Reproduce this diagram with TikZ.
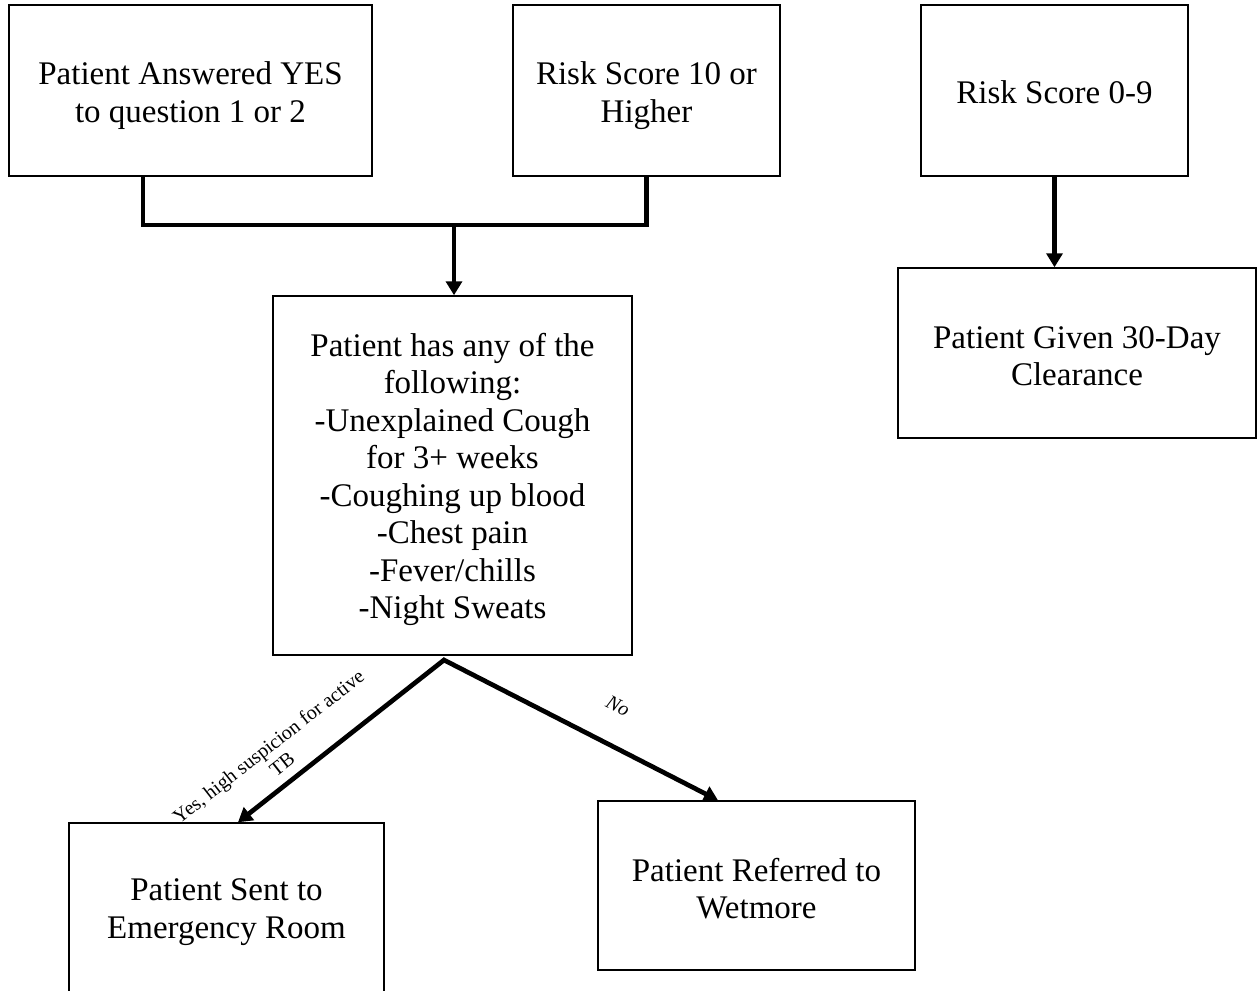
\documentclass[tikz,border=0pt]{standalone}
\usepackage{fontspec}
\setmainfont{Liberation Serif}
\usetikzlibrary{arrows.meta}
\tikzset{
  box/.style={draw, line width=1.5pt, inner sep=0pt},
  txt/.style={align=center, inner sep=0pt, font=\fontsize{33}{37.5}\selectfont},
  conn/.style={line width=4.7pt},
  arr/.style={conn, -{Triangle[length=14pt,width=16pt]}},
  lbl/.style={font=\fontsize{20}{22}\selectfont, align=center, inner sep=0pt}
}
\begin{document}
\begin{tikzpicture}[x=1pt,y=-1pt]
\clip (0,0) rectangle (1257,990);
\fill[white] (0,0) rectangle (1257,990);
\node[box, minimum width=363pt, minimum height=171pt,
  label={[txt, yshift=-5pt]center:Patient Answered YES\\to question 1 or 2}] (A) at (190.5,90.5) {};
\node[box, minimum width=267pt, minimum height=171pt,
  label={[txt, yshift=-5pt]center:Risk Score 10 or\\Higher}] (B) at (646.5,90.5) {};
\node[box, minimum width=267pt, minimum height=171pt,
  label={[txt, yshift=-2pt]center:Risk Score 0-9}] (C) at (1054.5,90.5) {};
\node[box, minimum width=358pt, minimum height=170pt,
  label={[txt, yshift=-3pt]center:Patient Given 30-Day\\Clearance}] (D) at (1077,353) {};
\node[box, minimum width=359pt, minimum height=359pt,
  label={[txt, yshift=-4pt]center:Patient has any of the\\following:\\-Unexplained Cough\\for 3+ weeks\\-Coughing up blood\\-Chest pain\\-Fever/chills\\-Night Sweats}] (E) at (452.5,475.5) {};
\node[box, minimum width=315pt, minimum height=172pt,
  label={[txt, yshift=-3pt]center:Patient Sent to\\Emergency Room}] (F) at (226.5,909) {};
\node[box, minimum width=317pt, minimum height=169pt,
  label={[txt, yshift=-3pt]center:Patient Referred to\\Wetmore}] (G) at (756.5,885.5) {};
\coordinate (j) at (454,225);
\coordinate (s) at (444,660);
\draw[conn] ([xshift=-47.5pt]A.south) |- (j) -| (B.south);
\draw[arr] (j) -- (E.north -| j);
\draw[arr] (C.south) -- (D.north -| C.south);
\draw[conn, {Triangle[length=14pt,width=16pt]}-{Triangle[length=14pt,width=16pt]}] ([xshift=11.5pt]F.north) -- (s) -- ([xshift=-38.5pt]G.north);
\node[lbl, rotate=38] (ly) at (275,755) {Yes, high suspicion for active\\TB};
\node[lbl, rotate=-27] (ln) at (618,706) {\itshape No};
\end{tikzpicture}
\end{document}
